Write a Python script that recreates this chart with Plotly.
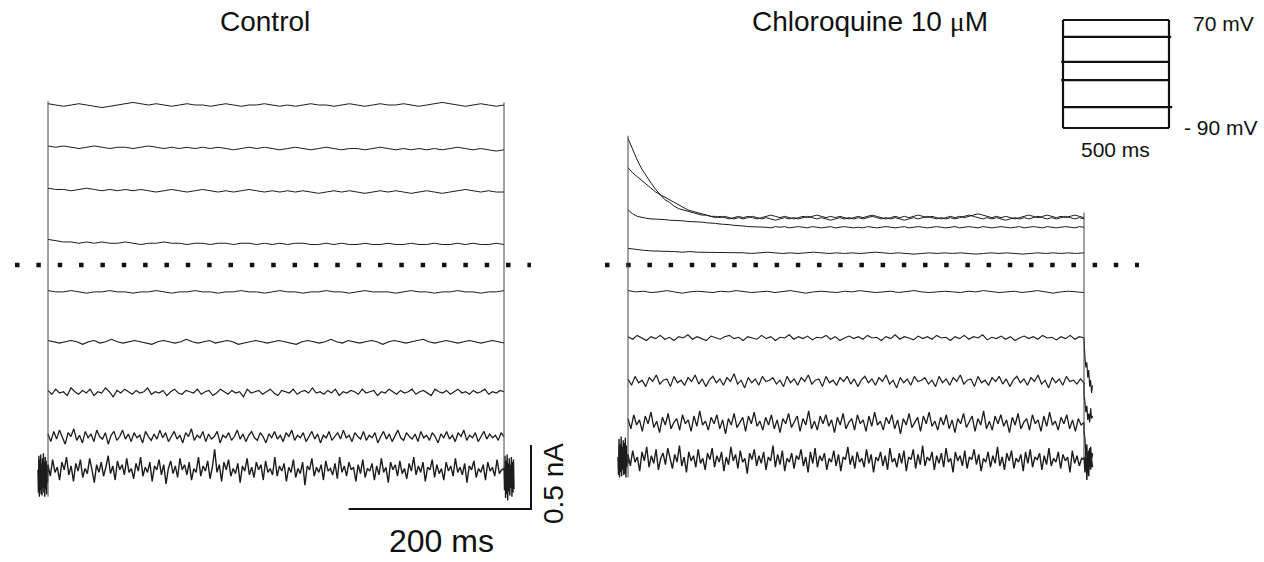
import numpy as np
import plotly.graph_objects as go

# ---------------- data (time in ms, current in pA, voltage in mV) ----------------
step_ms = 500

ctrl_1 = [1260,1250,1240,1250,1260,1250,1240,1230,1240,1250,1260,1270,1260,1250,1260,1250,1240,1250,1260,1250,
          1250,1240,1250,1260,1250,1240,1250,1250,1260,1250,1240,1250,1240,1250,1260,1250,1250,1240,1250,1260,
          1250,1240,1250,1260,1250,1250,1260,1250,1240,1250,1260,1270,1260,1250,1240,1250,1260,1250,1240,1250]
ctrl_2 = [930,920,930,920,910,920,930,920,910,920,920,910,920,930,920,910,920,910,920,910,
          920,910,920,910,900,910,920,910,920,910,900,910,920,910,900,910,920,910,900,910,
          910,900,910,920,910,900,910,900,910,900,910,900,910,920,910,900,910,900,890,900]
ctrl_3 = [600,590,590,580,590,600,590,580,590,580,590,580,590,580,570,580,590,580,570,580,
          590,580,570,580,570,580,590,580,570,580,570,580,570,580,570,560,570,580,570,580,
          570,560,570,580,570,580,570,560,570,580,570,560,570,580,590,580,570,580,570,570]
ctrl_4 = [200,190,180,180,170,180,170,180,170,170,180,170,160,170,170,180,170,170,160,170,
          170,160,170,170,160,170,170,160,170,160,170,160,170,170,160,160,170,160,170,160,
          160,170,160,160,170,160,160,170,160,160,170,160,160,170,160,170,160,160,170,160]
ctrl_5 = [-200,-210,-210,-200,-210,-220,-210,-210,-200,-210,-210,-220,-210,-210,-200,-210,-220,-210,-210,-200,
          -210,-210,-220,-210,-210,-200,-210,-210,-220,-210,-200,-210,-210,-220,-210,-210,-200,-210,-210,-220,
          -210,-200,-210,-210,-210,-220,-210,-200,-210,-210,-220,-210,-210,-200,-210,-210,-220,-210,-210,-200]
ctrl_6 = [-590,-600,-610,-600,-590,-600,-620,-600,-590,-610,-600,-580,-600,-610,-600,-590,-600,-610,-620,-600,
          -590,-600,-610,-600,-580,-600,-610,-600,-590,-610,-600,-590,-600,-620,-610,-600,-590,-600,-610,-600,
          -590,-600,-610,-620,-600,-590,-600,-610,-600,-580,-600,-610,-590,-600,-610,-600,-590,-600,-620,-600,
          -590,-600,-610,-600,-590,-580,-600,-610,-600,-590,-600,-610,-600,-590,-600,-610,-600,-590,-600,-610]
ctrl_7 = [-980,-1010,-970,-1000,-990,-1020,-960,-990,-1010,-980,-1000,-970,-1020,-990,-1000,-960,-990,-1030,-980,-1000,
          -970,-990,-1010,-980,-1000,-990,-960,-1010,-990,-1000,-980,-1020,-990,-970,-1000,-1010,-980,-990,-1000,-970,
          -1010,-990,-980,-1020,-1000,-970,-990,-1010,-980,-1000,-990,-1030,-970,-1000,-990,-980,-1010,-990,-970,-1000,
          -1020,-980,-990,-1000,-970,-1010,-990,-980,-1000,-960,-1000,-990,-1010,-980,-1000,-970,-1020,-990,-1000,-980,
          -990,-1010,-970,-1000,-990,-980,-1020,-990,-1000,-970,-990,-1010,-980,-1000,-990,-970,-1010,-990,-980,-1000,
          -1020,-970,-990,-1000,-980,-1010,-990,-970,-1000,-990,-1010,-980,-1000,-990,-970,-1010,-990,-1000,-980,-990]
ctrl_8 = [-1320,-1380,-1300,-1360,-1290,-1350,-1400,-1310,-1340,-1280,-1370,-1330,-1390,-1300,-1350,-1320,-1380,-1290,-1340,-1360,
          -1310,-1400,-1330,-1300,-1370,-1340,-1290,-1360,-1320,-1380,-1310,-1350,-1330,-1390,-1300,-1340,-1370,-1320,-1360,-1290,
          -1350,-1310,-1380,-1340,-1300,-1360,-1330,-1390,-1310,-1340,-1280,-1370,-1330,-1350,-1300,-1380,-1320,-1360,-1340,-1300,
          -1390,-1330,-1350,-1310,-1370,-1340,-1290,-1360,-1320,-1380,-1330,-1300,-1350,-1370,-1310,-1340,-1390,-1320,-1350,-1300,
          -1360,-1330,-1380,-1310,-1340,-1290,-1370,-1330,-1350,-1310,-1380,-1340,-1300,-1360,-1320,-1390,-1330,-1350,-1300,-1370,
          -1340,-1310,-1360,-1290,-1350,-1330,-1380,-1310,-1340,-1360,-1300,-1370,-1330,-1350,-1310,-1390,-1340,-1300,-1360,-1320,
          -1380,-1330,-1290,-1350,-1370,-1310,-1340,-1360,-1320,-1380,-1300,-1350,-1330,-1370,-1310,-1340,-1390,-1320,-1350,-1300,
          -1360,-1330,-1380,-1310,-1340,-1290,-1370,-1330,-1350,-1310,-1380,-1340,-1300,-1360,-1320,-1350,-1330,-1370,-1310,-1340]
ctrl_9 = [-1560,-1650,-1520,-1620,-1580,-1680,-1540,-1600,-1500,-1640,-1570,-1690,-1550,-1610,-1520,-1660,-1590,-1630,-1510,-1600,
          -1700,-1560,-1620,-1540,-1650,-1580,-1490,-1630,-1570,-1680,-1530,-1600,-1560,-1640,-1510,-1620,-1590,-1670,-1550,-1610,
          -1500,-1650,-1580,-1620,-1540,-1690,-1570,-1600,-1520,-1640,-1560,-1710,-1590,-1530,-1630,-1570,-1660,-1510,-1600,-1560,
          -1640,-1540,-1680,-1590,-1620,-1500,-1650,-1570,-1610,-1530,-1670,-1580,-1440,-1620,-1560,-1690,-1540,-1600,-1520,-1650,
          -1590,-1630,-1550,-1700,-1570,-1610,-1510,-1640,-1580,-1660,-1540,-1600,-1560,-1680,-1530,-1620,-1590,-1640,-1500,-1650,
          -1570,-1610,-1550,-1690,-1580,-1620,-1520,-1660,-1590,-1630,-1540,-1720,-1570,-1600,-1510,-1650,-1580,-1620,-1560,-1680,
          -1530,-1610,-1590,-1640,-1550,-1670,-1500,-1620,-1570,-1650,-1540,-1600,-1580,-1690,-1560,-1630,-1520,-1660,-1590,-1610,
          -1550,-1680,-1570,-1640,-1510,-1620,-1580,-1700,-1540,-1600,-1560,-1650,-1530,-1630,-1590,-1670,-1550,-1610,-1500,-1640,
          -1570,-1620,-1540,-1690,-1580,-1600,-1520,-1660,-1560,-1630,-1590,-1680,-1540,-1610,-1570,-1650,-1510,-1620,-1580,-1640,
          -1550,-1700,-1570,-1600,-1530,-1660,-1590,-1620,-1560,-1680,-1540,-1610,-1580,-1650,-1520,-1630,-1600,-1590]
ctrl_pre = [-1600,-1780,-1490,-1810,-1520,-1760,-1480,-1790,-1550,-1800,-1510,-1740,-1470,-1780,-1540,-1810,
            -1500,-1750,-1530,-1790,-1560,-1700,-1590]
ctrl_post = [-1580,-1760,-1490,-1820,-1530,-1790,-1480,-1840,-1550,-1770,-1510,-1800,-1560,-1740,-1500,-1810,
             -1540,-1780,-1520,-1750]

chl_1 = [990,900,820,750,690,640,590,550,510,490,460,440,430,420,410,400,390,390,380,370,
         380,370,360,370,380,370,380,370,360,370,380,390,380,370,380,370,360,370,380,370,
         380,390,380,370,380,370,380,370,360,370,380,370,380,390,380,370,360,370,380,370,
         380,370,380,390,380,370,380,370,360,370,380,370,380,370,380,390,400,390,380,370,
         380,370,380,370,360,370,380,390,380,370,380,390,380,370,380,370,380,390,380,370]
chl_2 = [760,720,690,660,630,600,570,550,530,510,490,470,450,430,420,410,400,390,380,380,
         370,380,370,360,370,360,370,380,370,360,370,360,350,360,370,360,370,360,370,380,
         370,360,370,360,350,360,370,360,370,360,370,360,370,380,370,360,370,360,370,360,
         350,360,370,360,370,380,370,360,370,360,370,360,370,380,390,380,370,360,370,360,
         370,360,350,360,370,360,370,360,370,380,370,360,370,360,370,380,370,360,370,360]
chl_3 = [430,400,380,370,365,360,360,355,355,350,350,345,345,340,340,335,335,330,330,325,
         320,320,315,310,310,305,300,300,295,300,295,290,300,295,300,290,295,300,295,290,
         300,295,290,295,300,290,295,300,295,290,295,290,300,295,290,295,300,295,290,295,
         300,290,295,300,295,290,295,300,295,290,295,300,290,295,300,295,290,300,295,290,
         295,300,295,290,295,300,290,295,300,295,290,300,295,290,295,300,295,290,300,295]
chl_4 = [130,120,115,110,110,105,105,100,105,100,100,95,100,95,100,95,90,95,100,95,
         90,95,90,95,100,95,90,95,90,95,90,95,100,95,90,95,90,85,90,95,
         90,95,90,95,90,85,90,95,90,95,90,85,90,95,90,95,90,95,90,95]
chl_5 = [-200,-210,-205,-215,-210,-200,-210,-220,-210,-205,-210,-215,-205,-210,-200,-210,-215,-210,-205,-215,
         -210,-200,-210,-220,-210,-205,-210,-215,-205,-210,-200,-210,-215,-210,-205,-215,-210,-200,-210,-215,
         -210,-205,-210,-215,-205,-210,-200,-210,-215,-210,-205,-215,-210,-200,-210,-220,-210,-205,-210,-215]
chl_6 = [-560,-580,-550,-570,-590,-560,-575,-550,-580,-565,-590,-560,-570,-545,-580,-560,-575,-590,-555,-570,
         -580,-560,-550,-575,-565,-590,-560,-570,-580,-550,-575,-560,-590,-565,-570,-545,-580,-560,-575,-555,
         -585,-565,-570,-550,-580,-560,-590,-570,-555,-575,-560,-580,-550,-570,-565,-590,-560,-575,-545,-580,
         -560,-570,-585,-555,-575,-560,-580,-550,-570,-565,-590,-560,-575,-550,-580,-560,-570,-545,-585,-565,
         -575,-555,-580,-560,-590,-570,-555,-575,-560,-580,-550,-570,-565,-585,-560,-575,-550,-580,-560,-570]
chl_7 = [-890,-940,-870,-920,-900,-950,-880,-910,-860,-930,-900,-890,-950,-870,-920,-900,-940,-880,-910,-860,
         -930,-890,-950,-900,-870,-920,-890,-940,-880,-910,-850,-930,-900,-960,-880,-920,-890,-940,-870,-910,
         -900,-880,-930,-900,-950,-870,-920,-890,-940,-880,-910,-860,-930,-900,-890,-950,-870,-920,-900,-940,
         -880,-910,-870,-930,-890,-950,-900,-870,-920,-890,-940,-880,-910,-860,-930,-900,-960,-880,-920,-890,
         -940,-870,-910,-900,-880,-930,-900,-950,-870,-920,-890,-940,-880,-910,-860,-930,-900,-890,-950,-870,
         -920,-900,-940,-880,-910,-870,-930,-890,-950,-900,-870,-920,-890,-940,-880,-910,-860,-930,-900,-960,
         -880,-920,-890,-940,-870,-910,-900,-930,-890,-920]
chl_8 = [-1200,-1280,-1170,-1250,-1210,-1300,-1180,-1240,-1150,-1270,-1220,-1310,-1190,-1250,-1160,-1280,-1230,-1200,-1290,-1170,
         -1240,-1210,-1300,-1180,-1260,-1140,-1250,-1220,-1290,-1190,-1240,-1170,-1280,-1210,-1320,-1200,-1250,-1160,-1270,-1230,
         -1190,-1300,-1180,-1240,-1150,-1260,-1220,-1290,-1190,-1250,-1170,-1280,-1210,-1310,-1200,-1240,-1160,-1270,-1230,-1180,
         -1300,-1200,-1250,-1140,-1280,-1220,-1290,-1180,-1240,-1170,-1260,-1210,-1310,-1190,-1250,-1160,-1280,-1230,-1200,-1290,
         -1170,-1240,-1210,-1300,-1180,-1260,-1150,-1250,-1220,-1290,-1190,-1240,-1170,-1280,-1210,-1320,-1200,-1250,-1160,-1270,
         -1230,-1190,-1300,-1180,-1240,-1150,-1260,-1220,-1290,-1190,-1250,-1170,-1280,-1210,-1310,-1200,-1240,-1160,-1270,-1230,
         -1180,-1300,-1200,-1250,-1140,-1280,-1220,-1290,-1180,-1240,-1170,-1260,-1210,-1310,-1190,-1250,-1160,-1280,-1230,-1200,
         -1290,-1170,-1240,-1210,-1300,-1180,-1260,-1150,-1250,-1220,-1290,-1190,-1240,-1170,-1280,-1210,-1300,-1200,-1250,-1230]
chl_9 = [-1480,-1570,-1450,-1540,-1500,-1610,-1460,-1530,-1420,-1580,-1490,-1550,-1440,-1600,-1510,-1470,-1560,-1430,-1520,-1590,
         -1480,-1540,-1410,-1570,-1500,-1620,-1460,-1530,-1490,-1580,-1440,-1550,-1510,-1600,-1470,-1520,-1430,-1580,-1490,-1540,
         -1460,-1610,-1500,-1560,-1420,-1530,-1480,-1590,-1450,-1540,-1510,-1630,-1470,-1520,-1440,-1570,-1490,-1550,-1460,-1600,
         -1500,-1530,-1410,-1580,-1480,-1560,-1450,-1610,-1510,-1540,-1470,-1590,-1490,-1520,-1440,-1570,-1500,-1620,-1460,-1550,
         -1430,-1580,-1490,-1530,-1470,-1600,-1510,-1540,-1450,-1570,-1480,-1610,-1500,-1520,-1420,-1560,-1490,-1590,-1460,-1540,
         -1510,-1580,-1440,-1550,-1480,-1620,-1500,-1530,-1460,-1570,-1490,-1600,-1430,-1540,-1510,-1580,-1470,-1550,-1450,-1610,
         -1500,-1520,-1440,-1590,-1480,-1560,-1410,-1570,-1500,-1530,-1460,-1600,-1490,-1550,-1470,-1580,-1430,-1540,-1510,-1620,
         -1460,-1530,-1490,-1570,-1450,-1590,-1500,-1520,-1440,-1560,-1480,-1610,-1510,-1540,-1460,-1580,-1490,-1550,-1420,-1570,
         -1500,-1600,-1470,-1530,-1450,-1590,-1510,-1540,-1480,-1610,-1460,-1550,-1440,-1580,-1500,-1520,-1470,-1600,-1490,-1560,
         -1430,-1570,-1510,-1540,-1460,-1590,-1480,-1530,-1500,-1620,-1450,-1550,-1490,-1570,-1510,-1520]
chl_pre = [-1500,-1640,-1360,-1660,-1400,-1620,-1340,-1650,-1420,-1600,-1370,-1640,-1390,-1630,-1350,-1660,
           -1410,-1580,-1480,-1550]
chl_tail_6 = [-580,-720,-800,-760,-880,-820,-950,-900,-1000,-940]
chl_tail_7 = [-1000,-1080,-1150,-1100,-1210,-1160,-1230,-1120,-1200,-1180]
chl_tail_8 = [-1300,-1360,-1480,-1400,-1560,-1450,-1580,-1420,-1520,-1470]
chl_tail_9 = [-1500,-1620,-1440,-1680,-1480,-1650,-1430,-1600,-1520,-1580]
artifact_ms = 11

ctrl_traces = [ctrl_1, ctrl_2, ctrl_3, ctrl_4, ctrl_5, ctrl_6, ctrl_7, ctrl_8, ctrl_9]
chl_traces = [chl_1, chl_2, chl_3, chl_4, chl_5, chl_6, chl_7, chl_8, chl_9]
chl_tails = {5: chl_tail_6, 6: chl_tail_7, 7: chl_tail_8, 8: chl_tail_9}

protocol_mV = [70, 45, 8, -19, -59, -90]
protocol_start_ms = [0, 0, -8, -8, 0, 0]
protocol_end_ms = [500, 510, 500, 500, 515, 500]

scale_ms = 200
scale_nA = 0.5

titles = ["Control", "Chloroquine 10 <span style='font-family:Liberation Serif'>\u03bc</span>M"]

# ---------------- layout geometry (pixels) ----------------
W, H = 1264, 562
PX_MS = 0.912
PX_NA = 128.0
ZERO_PX = 265.0
CTRL_ON_PX = 48.0
CHL_ON_PX = 628.0
CTRL_DOM = (0.0, 0.5)
CHL_DOM = (0.46, 1.0)
TRACE_W = [1.0, 1.0, 1.0, 1.0, 1.0, 1.1, 1.2, 1.3, 1.4]

def xrange_for(dom, onset_px):
    l = dom[0] * W
    r = dom[1] * W
    return [(l - onset_px) / PX_MS, (r - onset_px) / PX_MS]

y_range = [-(H - ZERO_PX) / PX_NA, ZERO_PX / PX_NA]

INK = "#1c1c1c"
fig = go.Figure()

def add_line(x, y, axis, color=INK, width=1.0, dash=None):
    fig.add_trace(go.Scatter(x=list(x), y=list(y), mode="lines", xaxis=axis, yaxis="y",
                             line=dict(color=color, width=width, dash=dash),
                             hoverinfo="skip", showlegend=False))

def nA(v):
    return np.asarray(v, dtype=float) / 1000.0

# zero-current dotted lines
add_line([(15 - CTRL_ON_PX) / PX_MS, (531 - CTRL_ON_PX) / PX_MS], [0, 0], "x", width=4.5, dash="4.5px,16.85px", color="#111")
add_line([(605 - CHL_ON_PX) / PX_MS, (1139 - CHL_ON_PX) / PX_MS], [0, 0], "x2", width=4.5, dash="4.5px,16.7px", color="#111")

# control traces
for i, v in enumerate(ctrl_traces):
    t = np.linspace(0, step_ms, len(v))
    y = nA(v)
    if i == len(ctrl_traces) - 1:
        t = np.concatenate([np.linspace(-artifact_ms, 0, len(ctrl_pre)), t,
                            np.linspace(step_ms, step_ms + artifact_ms, len(ctrl_post))])
        y = np.concatenate([nA(ctrl_pre), y, nA(ctrl_post)])
    add_line(t, y, "x", width=TRACE_W[i])
# control step edges
c_top0 = max(v[0] for v in ctrl_traces) / 1000 + 0.02
c_bot0 = min(ctrl_pre) / 1000
c_top1 = max(v[-1] for v in ctrl_traces) / 1000 + 0.02
c_bot1 = min(v[-1] for v in ctrl_traces) / 1000
add_line([0, 0], [c_bot0, c_top0], "x", color="#444", width=1)
add_line([step_ms, step_ms], [c_bot1, c_top1], "x", color="#444", width=1)

# chloroquine traces
for i, v in enumerate(chl_traces):
    t = np.linspace(0, step_ms, len(v))
    y = nA(v)
    if i in chl_tails:
        tl = chl_tails[i]
        t = np.concatenate([t, np.linspace(step_ms, step_ms + artifact_ms * 0.85, len(tl))])
        y = np.concatenate([y, nA(tl)])
    if i == len(chl_traces) - 1:
        t = np.concatenate([np.linspace(-artifact_ms, 0, len(chl_pre)), t])
        y = np.concatenate([nA(chl_pre), y])
    add_line(t, y, "x2", width=TRACE_W[i])
h_top0 = max(v[0] for v in chl_traces) / 1000 + 0.02
h_bot0 = min(chl_pre) / 1000
h_top1 = max(v[-1] for v in chl_traces) / 1000 + 0.04
h_bot1 = min(v[-1] for v in chl_traces) / 1000
add_line([0, 0], [h_bot0, h_top0], "x2", color="#444", width=1)
add_line([step_ms, step_ms], [h_bot1, h_top1], "x2", color="#444", width=1)

# scale bar (control axes)
sb_x_end = (531 - CTRL_ON_PX) / PX_MS
sb_y = (ZERO_PX - 509) / PX_NA
add_line([sb_x_end - scale_ms, sb_x_end, sb_x_end], [sb_y, sb_y, sb_y + scale_nA], "x", width=2, color="#111")

# voltage protocol inset (own axes)
for lvl, s, e in zip(protocol_mV, protocol_start_ms, protocol_end_ms):
    fig.add_trace(go.Scatter(x=[s, e], y=[lvl, lvl], mode="lines", xaxis="x3", yaxis="y3",
                             line=dict(color="#111", width=2.2), hoverinfo="skip", showlegend=False))
for tt in (0, step_ms):
    fig.add_trace(go.Scatter(x=[tt, tt], y=[min(protocol_mV), max(protocol_mV)], mode="lines",
                             xaxis="x3", yaxis="y3", line=dict(color="#111", width=2.2),
                             hoverinfo="skip", showlegend=False))

ax_off = dict(visible=False, showgrid=False, zeroline=False, fixedrange=True)
# inset geometry: x 1063..1169 px for 0..500 ms ; y 20..128 px for 70..-90 mV
in_px_ms = 106 / 500
in_px_mv = 108 / 160
in_xr = [-30, 530]
in_yr = [-100, 80]
in_left = 1063 + in_xr[0] * in_px_ms
in_right = 1063 + in_xr[1] * in_px_ms
in_top = 20 - (in_yr[1] - 70) * in_px_mv
in_bot = 128 + (-90 - in_yr[0]) * in_px_mv

fig.update_layout(
    width=W, height=H, margin=dict(l=0, r=0, t=0, b=0),
    paper_bgcolor="white", plot_bgcolor="rgba(0,0,0,0)",
    xaxis=dict(domain=list(CTRL_DOM), range=xrange_for(CTRL_DOM, CTRL_ON_PX), anchor="y", **ax_off),
    xaxis2=dict(domain=list(CHL_DOM), range=xrange_for(CHL_DOM, CHL_ON_PX), anchor="y", **ax_off),
    yaxis=dict(domain=[0, 1], range=y_range, **ax_off),
    xaxis3=dict(domain=[in_left / W, in_right / W], range=in_xr, anchor="y3", **ax_off),
    yaxis3=dict(domain=[1 - in_bot / H, 1 - in_top / H], range=in_yr, anchor="x3", **ax_off),
    font=dict(family="Liberation Sans, Arial, sans-serif", color="#111"),
)

def ann(text, xpx, ypx, size, xanchor="center", angle=0):
    fig.add_annotation(text=text, x=xpx / W, y=1 - ypx / H, xref="paper", yref="paper",
                       xanchor=xanchor, yanchor="middle", showarrow=False, textangle=angle,
                       font=dict(size=size, color="#111"))

ann(titles[0], 265, 22, 28)
ann(titles[1], 870, 22, 28)
ann("70 mV", 1191, 23, 21, xanchor="left")
ann("- 90 mV", 1182, 127, 21, xanchor="left")
ann("500 ms", 1115, 150, 21)
ann("200 ms", 441, 541, 32)
ann("0.5 nA", 553, 484, 28, angle=-90)

fig.write_html("out.html", config={"displayModeBar": False},
               post_script="document.body.style.margin='0';document.body.style.overflow='hidden';")
